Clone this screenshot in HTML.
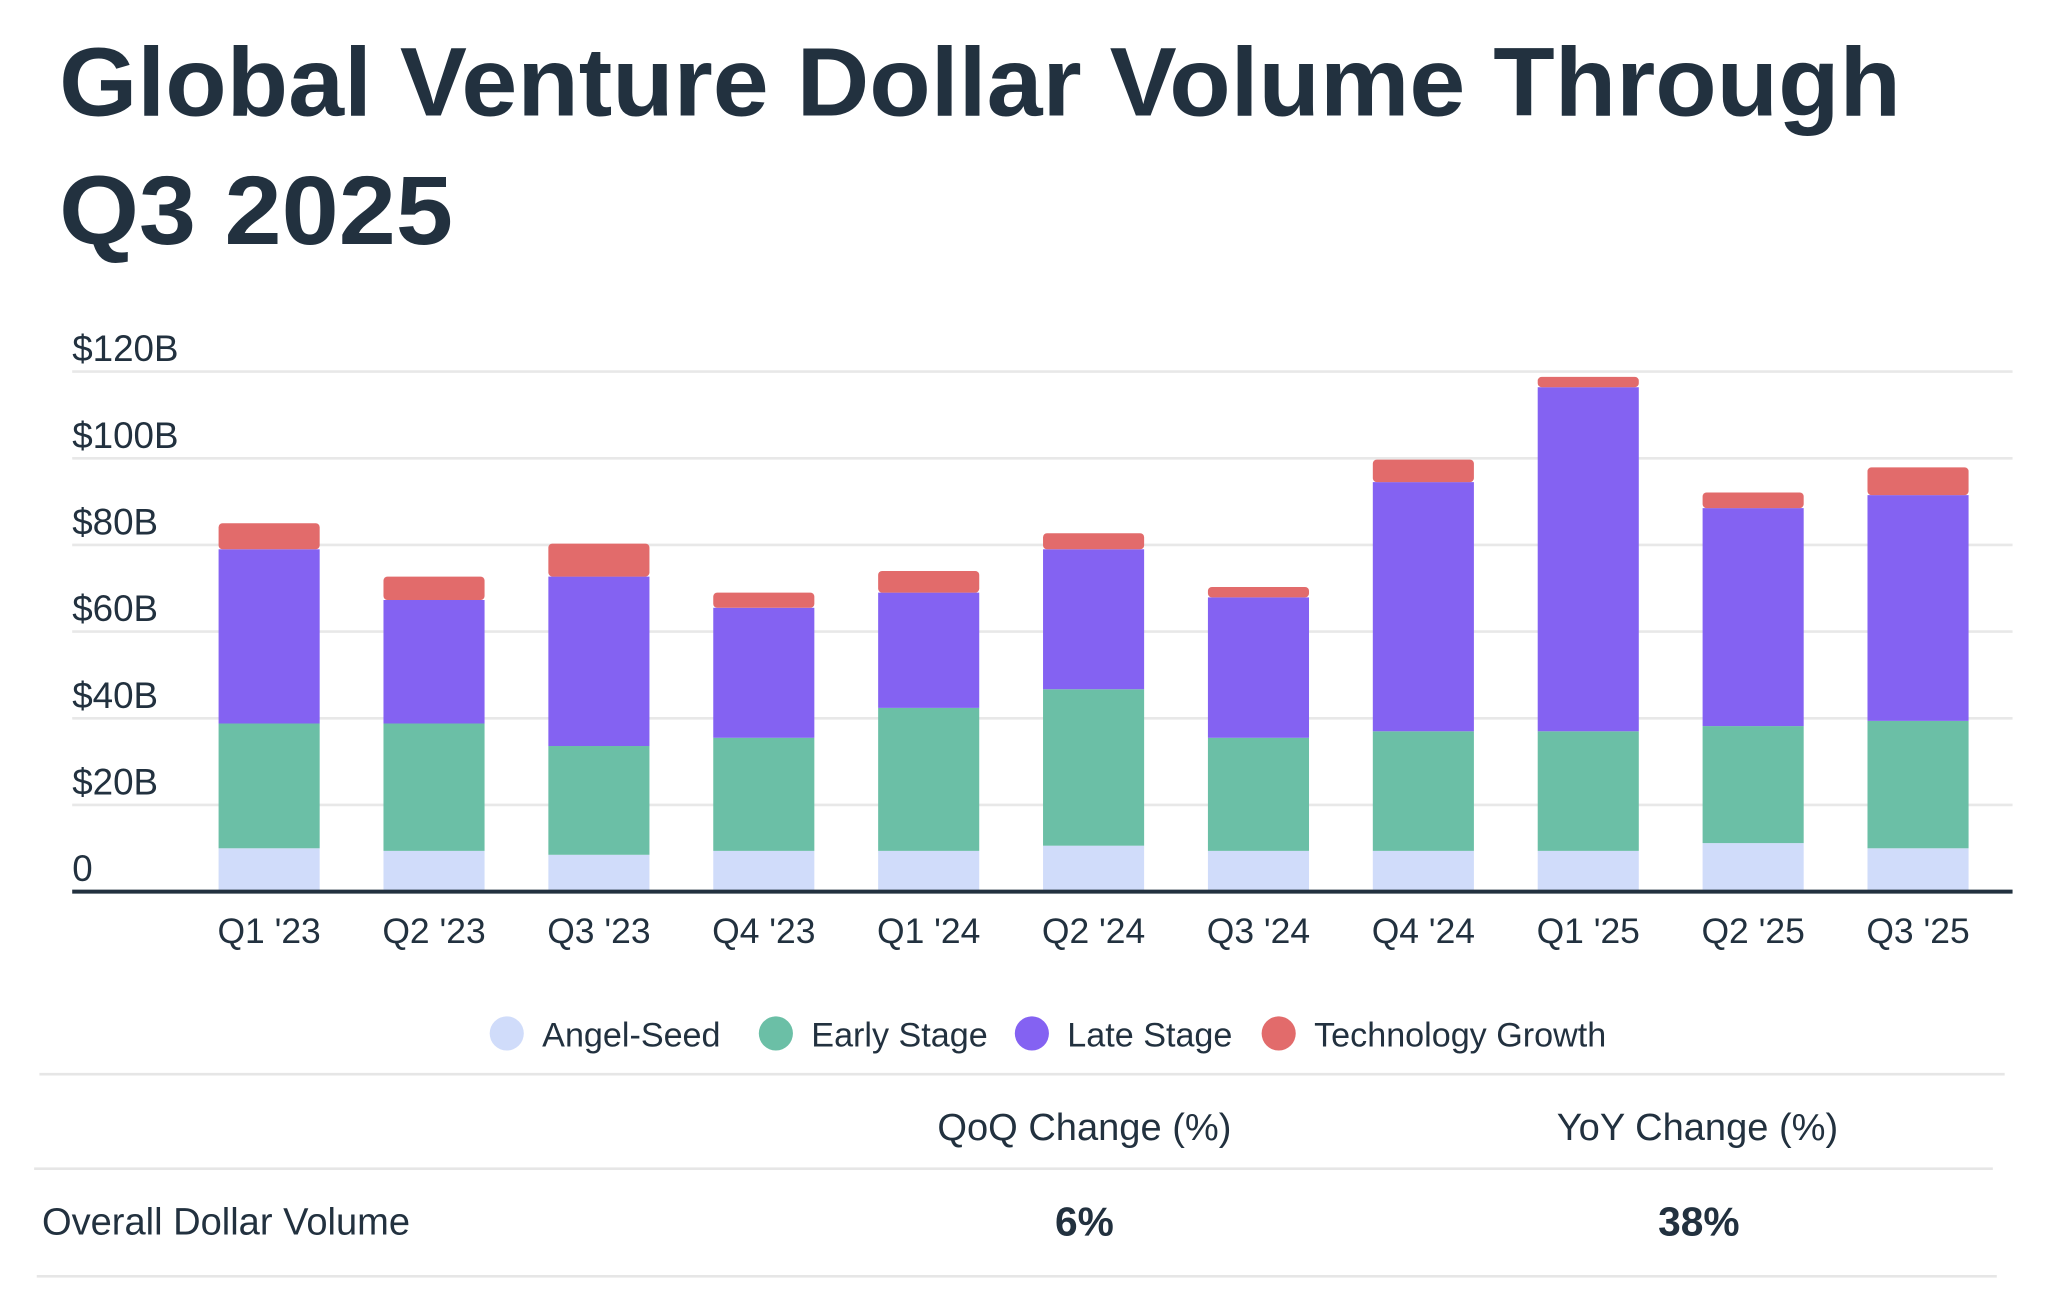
<!DOCTYPE html>
<html><head><meta charset="utf-8"><style>
html,body{margin:0;padding:0;background:#fff;}
svg{display:block;font-family:"Liberation Sans",sans-serif;}
</style></head><body>
<svg id="chart" width="2048" height="1300" viewBox="0 0 1560 990" preserveAspectRatio="none" xmlns="http://www.w3.org/2000/svg">
<text x="45" y="88" font-size="74" font-weight="bold" fill="#22313f" textLength="1403" lengthAdjust="spacingAndGlyphs">Global Venture Dollar Volume Through</text>
<text x="45" y="186" font-size="74" font-weight="bold" fill="#22313f" textLength="300" lengthAdjust="spacingAndGlyphs">Q3 2025</text>
<g id="grid"></g><g id="bars"></g><g id="xlabels"></g>
<line x1="55" x2="1533" y1="679" y2="679" stroke="#22313f" stroke-width="3"/>
<g id="legend"></g>
<line x1="30" x2="1527" y1="818" y2="818" stroke="#e6e6e6" stroke-width="2"/>
<text x="826" y="868" font-size="29" fill="#22313f" text-anchor="middle">QoQ Change (%)</text>
<text x="1293" y="868" font-size="29" fill="#22313f" text-anchor="middle">YoY Change (%)</text>
<line x1="26" x2="1518" y1="890" y2="890" stroke="#e6e6e6" stroke-width="2"/>
<text x="32" y="940" font-size="29" fill="#22313f">Overall Dollar Volume</text>
<text x="826" y="941" font-size="31" font-weight="bold" fill="#22313f" text-anchor="middle">6%</text>
<text x="1294" y="941" font-size="31" font-weight="bold" fill="#22313f" text-anchor="middle">38%</text>
<line x1="28" x2="1521" y1="972" y2="972" stroke="#e6e6e6" stroke-width="2"/>
</svg>
<script>
const categories = ["Q1 '23","Q2 '23","Q3 '23","Q4 '23","Q1 '24","Q2 '24","Q3 '24","Q4 '24","Q1 '25","Q2 '25","Q3 '25"];
const angelSeed = [10, 9.4, 8.5, 9.4, 9.4, 10.6, 9.4, 9.4, 9.4, 11.2, 10];
const earlyStage = [28.8, 29.4, 25.1, 26.1, 33, 36.1, 26.1, 27.6, 27.6, 27, 29.4];
const lateStage = [40.2, 28.5, 39.1, 30, 26.6, 32.3, 32.4, 57.5, 79.4, 50.3, 52.1];
const techGrowth = [6, 5.4, 7.6, 3.5, 5, 3.7, 2.4, 5.2, 2.4, 3.6, 6.4];
const yTicks = [0, 20, 40, 60, 80, 100, 120];
const yTickLabels = ["0","$20B","$40B","$60B","$80B","$100B","$120B"];
const seriesNames = ["Angel-Seed","Early Stage","Late Stage","Technology Growth"];
const colors = ["#d0dcfa","#6bbfa6","#8462f2","#e26b6b"];

const NS="http://www.w3.org/2000/svg";
const y0=679, pxPerB=3.3, x0=205, step=125.6, bw=77;
const yScale=v=>y0-v*pxPerB;
const xScale=i=>x0+i*step;
function mk(tag,attrs,parent){const e=document.createElementNS(NS,tag);for(const k in attrs)e.setAttribute(k,attrs[k]);parent.appendChild(e);return e;}

const grid=document.getElementById('grid');
yTicks.forEach((t,i)=>{
  if(t>0){const l=mk('line',{x1:55,x2:1533,y1:yScale(t),y2:yScale(t),stroke:'#e8e8e8','stroke-width':2},grid);
  
  }
  const tx=mk('text',{x:55,y:yScale(t)-8,'font-size':28,fill:'#22313f'},grid);
  tx.textContent=yTickLabels[i];
  
  
});

const bars=document.getElementById('bars');
const series=[angelSeed,earlyStage,lateStage,techGrowth];
categories.forEach((c,i)=>{
  let base=0;
  series.forEach((s,si)=>{
    const v=s[i];
    const top=base+v;
    const r=mk('rect',{x:xScale(i)-bw/2,y:yScale(top),width:bw,height:v*pxPerB,fill:colors[si],rx:si===3?3:0},bars);
    
    
    base=top;
  });
  const lab=mk('text',{x:xScale(i),y:718,'font-size':27,fill:'#22313f','text-anchor':'middle'},document.getElementById('xlabels'));
  lab.textContent=c;
  
  
});

const lg=document.getElementById('legend');
const lx=[386,591,786,974];
seriesNames.forEach((n,i)=>{
  const c=mk('circle',{cx:lx[i],cy:787,r:13,fill:colors[i]},lg);
  
  
  const t=mk('text',{x:lx[i]+27,y:797,'font-size':26,fill:'#22313f'},lg);
  t.textContent=n;
  
  
});
</script>
</body></html>
